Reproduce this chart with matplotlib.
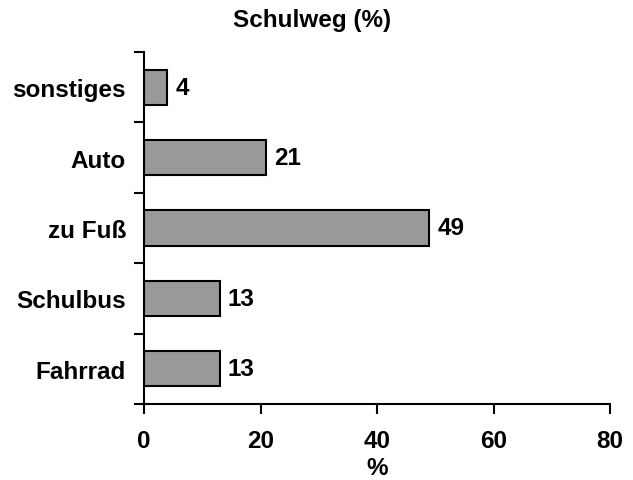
import numpy as np
import matplotlib.pyplot as plt

plt.rcParams['font.family'] = ['Liberation Sans', 'DejaVu Sans']
plt.rcParams['font.weight'] = 'bold'

# Daten
kategorien = ['Fahrrad', 'Schulbus', 'zu Fuß', 'Auto', 'sonstiges']
werte = [13, 13, 49, 21, 4]
x_ticks = [0, 20, 40, 60, 80]

fs = 17.5

fig = plt.figure(figsize=(6.33, 4.81), dpi=100)
ax = fig.add_axes([0.2275, 0.158, 0.7362, 0.732])

pos = np.arange(len(kategorien))
ax.barh(pos, werte, height=0.5, color='#999999', edgecolor='black', linewidth=1.5)

for p, w in zip(pos, werte):
    ax.text(w + 1.4, p, str(w), va='center', ha='left', fontsize=fs, fontweight='bold')

ax.set_xlim(0, 80)
ax.set_ylim(-0.5, len(kategorien) - 0.5)
ax.set_xticks(x_ticks)
ax.set_yticks(pos)
ax.set_yticklabels(kategorien)
ax.set_yticks(np.arange(-0.5, len(kategorien), 1), minor=True)
ax.tick_params(axis='y', which='major', length=0, pad=13, labelsize=fs)
ax.tick_params(axis='y', which='minor', length=7, width=1.5)
ax.tick_params(axis='x', length=7, width=1.5, pad=11, labelsize=fs)

for s in ['top', 'right']:
    ax.spines[s].set_visible(False)
for s in ['left', 'bottom']:
    ax.spines[s].set_linewidth(1.5)

ax.set_xlabel('%', fontsize=fs, fontweight='bold', labelpad=3)
fig.text(0.493, 0.957, 'Schulweg (%)', ha='center', va='center', fontsize=fs, fontweight='bold')

fig.savefig('out.png', dpi=100)
